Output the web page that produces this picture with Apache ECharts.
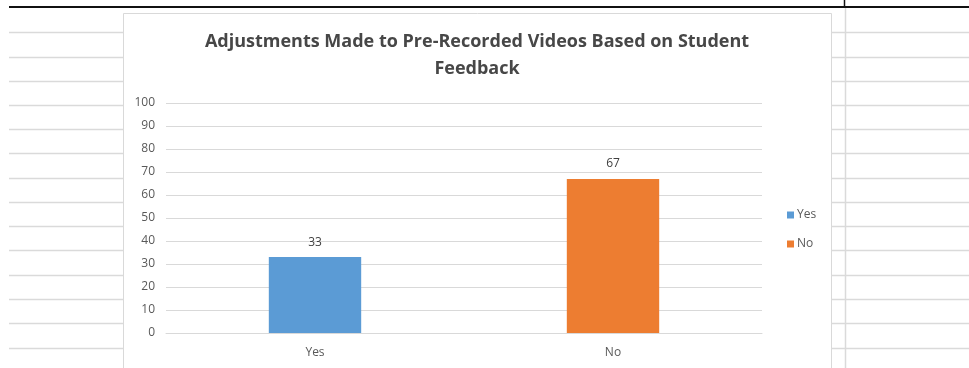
<!DOCTYPE html>
<html>
<head>
<meta charset="utf-8">
<script src="https://cdn.jsdelivr.net/npm/echarts@6/dist/echarts.min.js"></script>
<style>
  html, body { margin: 0; padding: 0; background: #ffffff; }
  #chart { width: 969px; height: 368px; }
</style>
</head>
<body>
<div id="chart"></div>
<script>
// Survey answers and their counts
const categories = ['Yes', 'No'];
const yesValues = [33, null];
const noValues = [null, 67];
const seriesNames = ['Yes', 'No'];
const titleLines = ['Adjustments Made to Pre-Recorded Videos Based on Student', 'Feedback'];

const W = 969, H = 368;
const sheetLine = '#dadada';

// Worksheet cell borders around the embedded chart
const sheet = [];
const rowYs = [32, 57, 81, 105, 129, 153, 178, 202, 226, 250, 275, 299, 323, 348];
rowYs.forEach(function (y) {
  sheet.push({ type: 'line', shape: { x1: 9, y1: y + 0.5, x2: 123, y2: y + 0.5 }, style: { stroke: sheetLine, lineWidth: 1.5 }, silent: true });
  sheet.push({ type: 'line', shape: { x1: 831, y1: y + 0.5, x2: W, y2: y + 0.5 }, style: { stroke: sheetLine, lineWidth: 1.5 }, silent: true });
});
sheet.push({ type: 'line', shape: { x1: 845.5, y1: 8, x2: 845.5, y2: H }, style: { stroke: sheetLine, lineWidth: 1.5 }, silent: true });
sheet.push({ type: 'line', shape: { x1: 9, y1: 7, x2: W, y2: 7 }, style: { stroke: '#111111', lineWidth: 2 }, silent: true });
sheet.push({ type: 'line', shape: { x1: 844.5, y1: 0, x2: 844.5, y2: 7 }, style: { stroke: '#111111', lineWidth: 1.5 }, silent: true });
// Chart frame
sheet.push({ type: 'rect', shape: { x: 123.5, y: 13.5, width: 708, height: 370 }, style: { fill: '#ffffff', stroke: '#d9d9d9', lineWidth: 1 }, silent: true, z: -1 });

const chart = echarts.init(document.getElementById('chart'), null, { renderer: 'canvas' });
chart.setOption({
  animation: false,
  backgroundColor: '#ffffff',
  graphic: { elements: sheet },
  title: {
    text: titleLines.join('\n'),
    left: 472,
    textAlign: 'center',
    top: 23,
    textStyle: {
      fontFamily: 'Open Sans',
      fontWeight: 'bold',
      fontSize: 18,
      lineHeight: 27,
      color: '#474747'
    }
  },
  legend: {
    data: seriesNames,
    orient: 'vertical',
    left: 782,
    top: 204,
    itemWidth: 7,
    itemHeight: 7,
    itemGap: 17,
    icon: 'rect',
    textStyle: { fontFamily: 'Open Sans', fontSize: 12, color: '#595959', padding: [0, 0, 0, -2] }
  },
  grid: { left: 166, right: 207, top: 103, bottom: 35, containLabel: false },
  xAxis: {
    type: 'category',
    data: categories,
    axisLine: { show: true, lineStyle: { color: '#d9d9d9' } },
    axisTick: { show: false },
    axisLabel: { fontFamily: 'Open Sans', fontSize: 12, color: '#595959', margin: 14 }
  },
  yAxis: {
    type: 'value',
    min: 0,
    max: 100,
    interval: 10,
    axisLine: { show: false },
    axisTick: { show: false },
    splitLine: { lineStyle: { color: '#d9d9d9', width: 1 } },
    axisLabel: { fontFamily: 'Open Sans', fontSize: 12, color: '#595959', margin: 11 }
  },
  series: [
    {
      name: seriesNames[0],
      type: 'bar',
      stack: 'answers',
      data: yesValues,
      barWidth: '31%',
      itemStyle: { color: '#5b9bd5' },
      label: { show: true, position: 'top', distance: 9, fontFamily: 'Open Sans', fontSize: 12, color: '#404040' }
    },
    {
      name: seriesNames[1],
      type: 'bar',
      stack: 'answers',
      data: noValues,
      barWidth: '31%',
      itemStyle: { color: '#ed7d31' },
      label: { show: true, position: 'top', distance: 9, fontFamily: 'Open Sans', fontSize: 12, color: '#404040' }
    }
  ]
});
</script>
</body>
</html>
